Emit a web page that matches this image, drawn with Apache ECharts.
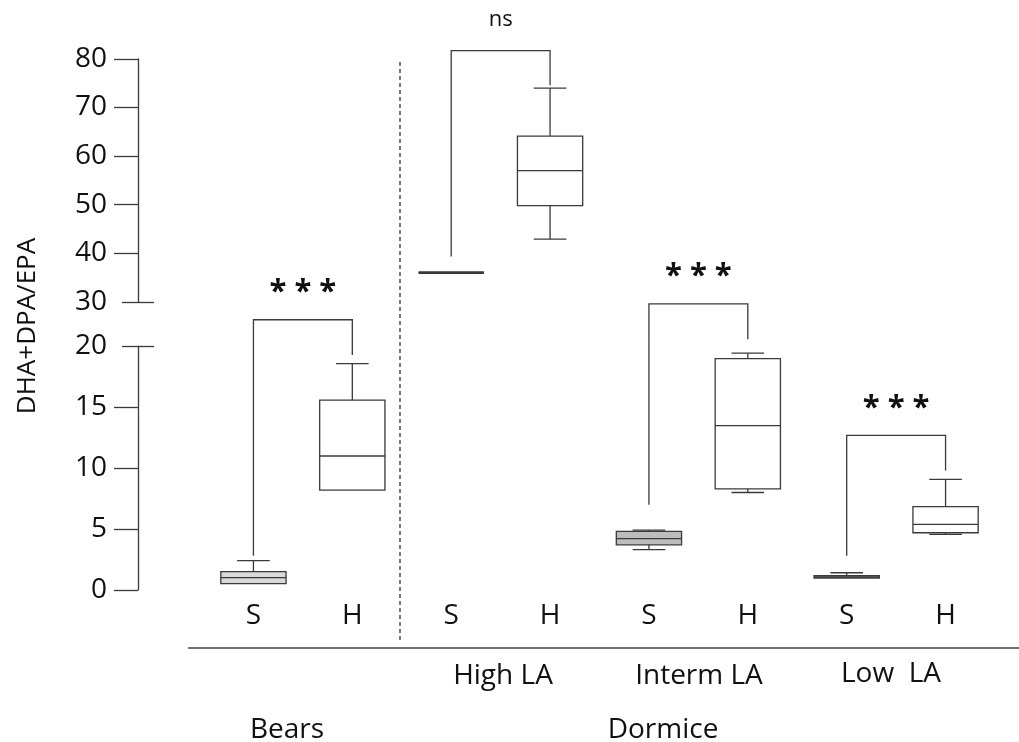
<!DOCTYPE html>
<html lang="en">
<head>
<meta charset="UTF-8">
<title>DHA+DPA/EPA</title>
<script src="https://cdn.jsdelivr.net/npm/echarts@6.0.0/dist/echarts.min.js"></script>
<style>html,body{margin:0;padding:0;background:#fff;}</style>
</head>
<body>
<div id="main" style="width:1019px;height:742px;"></div>
<script type="text/javascript">
// categories on the x axis and the labels shown under them
var categories = ['Bears S', 'Bears H', 'High LA S', 'High LA H', 'Interm LA S', 'Interm LA H', 'Low LA S', 'Low LA H'];
var tickLabels = ['S', 'H', 'S', 'H', 'S', 'H', 'S', 'H'];
var groupLabels = ['High LA', 'Interm LA', 'Low  LA'];
var speciesLabels = ['Bears', 'Dormice'];

// y axis is broken: 0-20 below, 30-80 above
var lowerTicks = [0, 5, 10, 15];
var upperTicks = [40, 50, 60, 70, 80];

// box stats: [min, Q1, median, Q3, max]
var bearsS = [0.5, 0.5, 1.0, 1.5, 2.4];
var bearsH = [8.2, 8.2, 11.0, 15.6, 18.6];
var highS = [36, 36, 36, 36, 36];
var highH = [42.9, 49.8, 57.0, 64.1, 74.0];
var intermS = [3.3, 3.7, 4.2, 4.8, 4.9];
var intermH = [8.0, 8.3, 13.5, 19.0, 19.45];
var lowS = [0.95, 0.97, 1.07, 1.17, 1.4];
var lowH = [4.56, 4.69, 5.38, 6.83, 9.08];

// significance brackets: [left cat, right cat, left foot, top, right foot]
var bracketBears = [0, 1, 2.8, 22.2, 19.3];
var bracketHigh = [2, 3, 39.3, 81.7, 74.6];
var bracketInterm = [4, 5, 7.0, 23.5, 20.6];
var bracketLow = [6, 7, 2.8, 12.7, 9.8];
var bracketMarks = ['* * *', 'ns', '* * *', '* * *'];

var boxes = [bearsS, bearsH, highS, highH, intermS, intermH, lowS, lowH];
var boxFill = ['#d9d9d9', '#ffffff', '#ffffff', '#ffffff', '#bdbdbd', '#ffffff', '#9e9e9e', '#ffffff'];
var brackets = [bracketBears, bracketHigh, bracketInterm, bracketLow];

var ink = '#3a3a3a';
var font = '"Open Sans", "Noto Sans", sans-serif';

// values above the break go to the upper grid
function inUpper(v) { return v >= 30; }

var lowerBoxes = [], upperBoxes = [];
boxes.forEach(function (b, i) {
    (inUpper(b[2]) ? upperBoxes : lowerBoxes).push([i].concat(b));
});
var lowerBrackets = [], upperBrackets = [];
brackets.forEach(function (b, i) {
    (inUpper(b[3]) ? upperBrackets : lowerBrackets).push(b.concat([i]));
});

function renderBox(params, api) {
    var i = api.value(0);
    var w = api.size([1, 0])[0] * 0.66;
    var pMin = api.coord([i, api.value(1)]);
    var pQ1 = api.coord([i, api.value(2)]);
    var pMed = api.coord([i, api.value(3)]);
    var pQ3 = api.coord([i, api.value(4)]);
    var pMax = api.coord([i, api.value(5)]);
    var x = pMed[0];
    var line = { stroke: ink, lineWidth: 1.3 };
    var kids = [];
    if (pQ3[1] - pMax[1] > 0.8) {
        kids.push({ type: 'line', shape: { x1: x, y1: pQ3[1], x2: x, y2: pMax[1] }, style: line });
        kids.push({ type: 'line', shape: { x1: x - w / 4, y1: pMax[1], x2: x + w / 4, y2: pMax[1] }, style: line });
    }
    if (pMin[1] - pQ1[1] > 0.8) {
        kids.push({ type: 'line', shape: { x1: x, y1: pQ1[1], x2: x, y2: pMin[1] }, style: line });
        kids.push({ type: 'line', shape: { x1: x - w / 4, y1: pMin[1], x2: x + w / 4, y2: pMin[1] }, style: line });
    }
    var h = pQ1[1] - pQ3[1];
    kids.push({
        type: 'rect',
        shape: { x: x - w / 2, y: pQ3[1], width: w, height: h },
        style: { fill: boxFill[i], stroke: ink, lineWidth: h < 1 ? 2.6 : 1.3 }
    });
    kids.push({ type: 'line', shape: { x1: x - w / 2, y1: pMed[1], x2: x + w / 2, y2: pMed[1] }, style: line });
    return { type: 'group', children: kids };
}

function renderBracket(params, api) {
    var a = api.coord([api.value(0), api.value(2)]);
    var b = api.coord([api.value(0), api.value(3)]);
    var c = api.coord([api.value(1), api.value(3)]);
    var d = api.coord([api.value(1), api.value(4)]);
    var mark = bracketMarks[api.value(5)];
    var stars = mark !== 'ns';
    return {
        type: 'group',
        children: [
            { type: 'polyline', shape: { points: [a, b, c, d] }, style: { stroke: ink, lineWidth: 1.3, fill: null } },
            {
                type: 'text',
                x: (b[0] + c[0]) / 2,
                y: b[1] - (stars ? 12 : 20),
                style: {
                    text: mark, align: 'center', verticalAlign: 'bottom',
                    fontFamily: font, fontSize: stars ? 31 : 22, fontWeight: stars ? 'bold' : 'normal',
                    fill: '#111'
                }
            }
        ]
    };
}

var axisFont = { fontFamily: font, fontSize: 28, color: '#111' };

var myChart = echarts.init(document.getElementById('main'));
myChart.setOption({
    animation: false,
    grid: [
        { left: 204, right: 24, top: 346.5, height: 243.3 },
        { left: 204, right: 24, top: 58.9, height: 242.9 }
    ],
    xAxis: [
        {
            gridIndex: 0, type: 'category', data: categories,
            axisLine: { show: false }, axisTick: { show: false },
            axisLabel: { margin: 12, fontSize: 28, fontFamily: font, color: '#111', formatter: function (v, idx) { return tickLabels[idx]; } }
        },
        { gridIndex: 1, type: 'category', data: categories, show: false }
    ],
    yAxis: [
        {
            gridIndex: 0, type: 'value', min: 0, max: 20, interval: 5, position: 'left', offset: 66,
            splitLine: { show: false },
            axisLine: { show: true, lineStyle: { color: ink, width: 1.3 } },
            axisTick: { show: true, length: 24, customValues: lowerTicks, lineStyle: { color: ink, width: 1.3 } },
            axisLabel: Object.assign({ margin: 31 }, axisFont)
        },
        {
            gridIndex: 1, type: 'value', min: 30, max: 80, interval: 10, position: 'left', offset: 66,
            splitLine: { show: false },
            axisLine: { show: true, lineStyle: { color: ink, width: 1.3 } },
            axisTick: { show: true, length: 24, customValues: upperTicks, lineStyle: { color: ink, width: 1.3 } },
            axisLabel: Object.assign({ margin: 31 }, axisFont)
        },
        // the ticks at the break cross the axis line
        {
            gridIndex: 0, type: 'value', min: 0, max: 20, position: 'left', offset: 50,
            splitLine: { show: false }, axisLine: { show: false }, axisLabel: { show: false },
            axisTick: { show: true, length: 32, customValues: [20], lineStyle: { color: ink, width: 1.3 } }
        },
        {
            gridIndex: 1, type: 'value', min: 30, max: 80, position: 'left', offset: 50,
            splitLine: { show: false }, axisLine: { show: false }, axisLabel: { show: false },
            axisTick: { show: true, length: 32, customValues: [30], lineStyle: { color: ink, width: 1.3 } }
        }
    ],
    graphic: [
        { type: 'line', shape: { x1: 400, y1: 62, x2: 400, y2: 640 }, style: { stroke: '#333', lineWidth: 1.3, lineDash: [4, 3] } },
        { type: 'line', shape: { x1: 188, y1: 648, x2: 1019, y2: 648 }, style: { stroke: '#444', lineWidth: 1.5 } },
        { type: 'text', x: 28, y: 326, rotation: Math.PI / 2, style: { text: 'DHA+DPA/EPA', align: 'center', verticalAlign: 'middle', fontFamily: font, fontSize: 26, fill: '#111' } },
        { type: 'text', x: 503, y: 676, style: { text: groupLabels[0], align: 'center', verticalAlign: 'middle', fontFamily: font, fontSize: 28, fill: '#111' } },
        { type: 'text', x: 699, y: 676, style: { text: groupLabels[1], align: 'center', verticalAlign: 'middle', fontFamily: font, fontSize: 28, fill: '#111' } },
        { type: 'text', x: 891, y: 674, style: { text: groupLabels[2], align: 'center', verticalAlign: 'middle', fontFamily: font, fontSize: 28, fill: '#111' } },
        { type: 'text', x: 287, y: 730, style: { text: speciesLabels[0], align: 'center', verticalAlign: 'middle', fontFamily: font, fontSize: 28, fill: '#111' } },
        { type: 'text', x: 663, y: 730, style: { text: speciesLabels[1], align: 'center', verticalAlign: 'middle', fontFamily: font, fontSize: 28, fill: '#111' } }
    ],
    series: [
        { type: 'custom', xAxisIndex: 0, yAxisIndex: 0, clip: false, renderItem: renderBox, encode: { x: 0, y: [1, 2, 3, 4, 5] }, data: lowerBoxes },
        { type: 'custom', xAxisIndex: 1, yAxisIndex: 1, clip: false, renderItem: renderBox, encode: { x: 0, y: [1, 2, 3, 4, 5] }, data: upperBoxes },
        { type: 'custom', xAxisIndex: 0, yAxisIndex: 0, clip: false, renderItem: renderBracket, encode: { x: [0, 1], y: [2, 3, 4] }, data: lowerBrackets },
        { type: 'custom', xAxisIndex: 1, yAxisIndex: 1, clip: false, renderItem: renderBracket, encode: { x: [0, 1], y: [2, 3, 4] }, data: upperBrackets }
    ]
});
</script>
</body>
</html>
